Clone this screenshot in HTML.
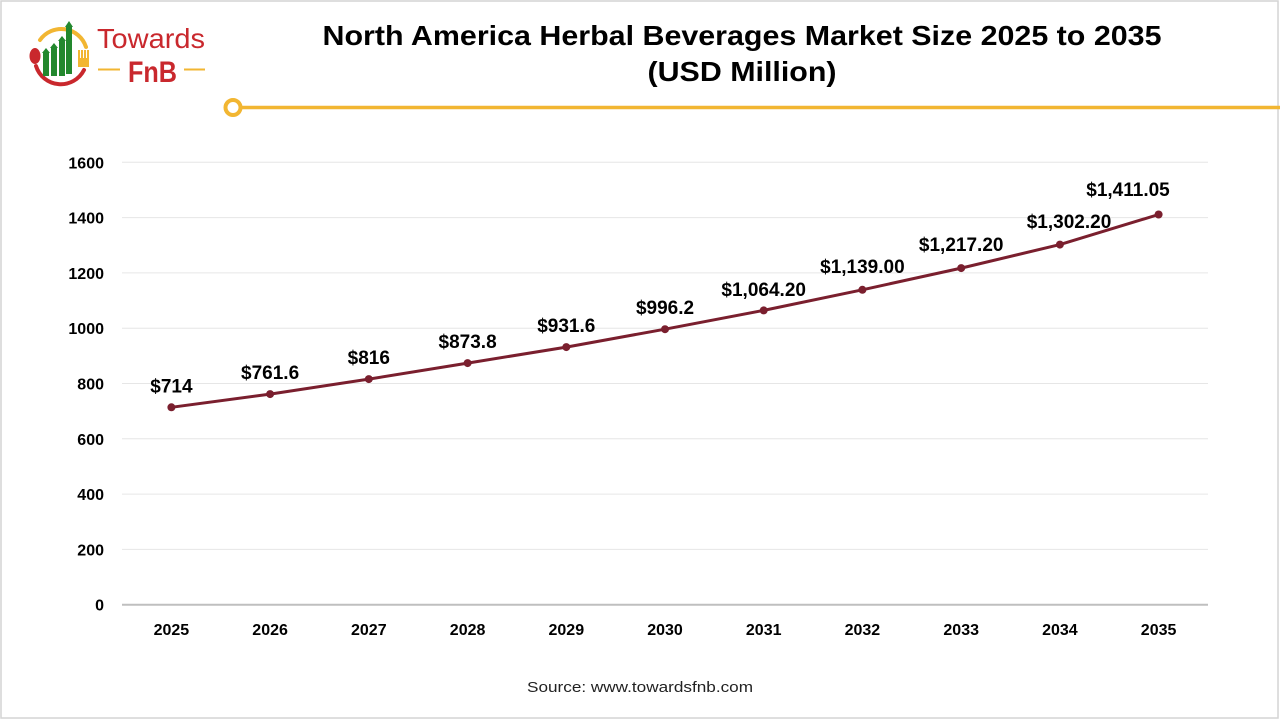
<!DOCTYPE html>
<html>
<head>
<meta charset="utf-8">
<style>
  html,body{margin:0;padding:0;background:#fff;}
  svg{display:block;}
</style>
</head>
<body>
<svg width="1280" height="720" viewBox="0 0 1280 720" xmlns="http://www.w3.org/2000/svg">
  <rect x="0" y="0" width="1280" height="720" fill="#fff"/>
  <rect x="1" y="1" width="1277" height="717" fill="none" stroke="#d4d4d4" stroke-width="1.5"/>

  <!-- Logo -->
  <g>
    <path d="M40,40 A26,26 0 0 1 86,47" fill="none" stroke="#f2b632" stroke-width="4" stroke-linecap="round"/>
    <path d="M36,66 A26,26 0 0 0 84,70" fill="none" stroke="#c9282d" stroke-width="4" stroke-linecap="round"/>
    <ellipse cx="35" cy="56" rx="5.5" ry="8" fill="#c9282d"/>
    <rect x="43" y="52" width="6" height="24" fill="#23882e"/>
    <polygon points="42,53 46,48 50,53" fill="#23882e"/>
    <rect x="51" y="47" width="6" height="29" fill="#23882e"/>
    <polygon points="50,48 54,43 58,48" fill="#23882e"/>
    <rect x="59" y="40" width="6" height="36" fill="#23882e"/>
    <polygon points="58,41 62,36 66,41" fill="#23882e"/>
    <rect x="66" y="26" width="6" height="48" fill="#23882e"/>
    <polygon points="65,27 69,21 73,27" fill="#23882e"/>
    <!-- fork -->
    <rect x="78" y="58" width="11" height="9" fill="#f2b632"/>
    <rect x="78" y="50" width="2" height="9" fill="#f2b632"/>
    <rect x="81" y="50" width="2" height="9" fill="#f2b632"/>
    <rect x="84" y="50" width="2" height="9" fill="#f2b632"/>
    <rect x="87" y="50" width="2" height="9" fill="#f2b632"/>
    <text x="97" y="48" font-family="Liberation Sans, sans-serif" font-size="28" fill="#c9282d" textLength="108" lengthAdjust="spacingAndGlyphs">Towards</text>
    <line x1="98" y1="69.5" x2="120" y2="69.5" stroke="#f2b632" stroke-width="2"/>
    <line x1="184" y1="69.5" x2="205" y2="69.5" stroke="#f2b632" stroke-width="2"/>
    <text x="128" y="82" font-family="Liberation Sans, sans-serif" font-weight="bold" font-size="30" fill="#c9282d" textLength="49" lengthAdjust="spacingAndGlyphs">FnB</text>
  </g>

  <!-- Title -->
  <text x="742" y="45" text-anchor="middle" font-family="Liberation Sans, sans-serif" font-weight="bold" font-size="28" fill="#000" textLength="839" lengthAdjust="spacingAndGlyphs">North America Herbal Beverages Market Size 2025 to 2035</text>
  <text x="742" y="81" text-anchor="middle" font-family="Liberation Sans, sans-serif" font-weight="bold" font-size="28" fill="#000" textLength="189" lengthAdjust="spacingAndGlyphs">(USD Million)</text>

  <!-- Yellow rule -->
  <line x1="241" y1="107.5" x2="1280" y2="107.5" stroke="#f2b632" stroke-width="3.5"/>
  <circle cx="233" cy="107.5" r="7.5" fill="#fff" stroke="#f2b632" stroke-width="4"/>

  <!-- Gridlines -->
  <g stroke="#e6e6e6" stroke-width="1">
    <line x1="122" y1="162.3" x2="1208" y2="162.3"/>
    <line x1="122" y1="217.6" x2="1208" y2="217.6"/>
    <line x1="122" y1="272.9" x2="1208" y2="272.9"/>
    <line x1="122" y1="328.2" x2="1208" y2="328.2"/>
    <line x1="122" y1="383.5" x2="1208" y2="383.5"/>
    <line x1="122" y1="438.8" x2="1208" y2="438.8"/>
    <line x1="122" y1="494.1" x2="1208" y2="494.1"/>
    <line x1="122" y1="549.4" x2="1208" y2="549.4"/>
  </g>
  <line x1="122" y1="604.7" x2="1208" y2="604.7" stroke="#bfbfbf" stroke-width="2"/>

  <!-- Y tick labels -->
  <g font-family="Liberation Sans, sans-serif" font-weight="bold" font-size="16" fill="#000" text-anchor="end">
    <text x="104" y="168.3">1600</text>
    <text x="104" y="223.6">1400</text>
    <text x="104" y="278.9">1200</text>
    <text x="104" y="334.2">1000</text>
    <text x="104" y="389.5">800</text>
    <text x="104" y="444.8">600</text>
    <text x="104" y="500.1">400</text>
    <text x="104" y="555.4">200</text>
    <text x="104" y="610.7">0</text>
  </g>

  <!-- X tick labels -->
  <g font-family="Liberation Sans, sans-serif" font-weight="bold" font-size="16" fill="#000" text-anchor="middle">
    <text x="171.4" y="635">2025</text>
    <text x="270.1" y="635">2026</text>
    <text x="368.8" y="635">2027</text>
    <text x="467.6" y="635">2028</text>
    <text x="566.3" y="635">2029</text>
    <text x="665" y="635">2030</text>
    <text x="763.7" y="635">2031</text>
    <text x="862.4" y="635">2032</text>
    <text x="961.2" y="635">2033</text>
    <text x="1059.9" y="635">2034</text>
    <text x="1158.6" y="635">2035</text>
  </g>

  <!-- Line -->
  <polyline fill="none" stroke="#7a1f2e" stroke-width="3" stroke-linejoin="round"
    points="171.4,407.3 270.1,394.1 368.8,379.1 467.6,363.1 566.3,347.1 665,329.2 763.7,310.4 862.4,289.8 961.2,268.1 1059.9,244.6 1158.6,214.5"/>
  <g fill="#7a1f2e">
    <circle cx="171.4" cy="407.3" r="4"/>
    <circle cx="270.1" cy="394.1" r="4"/>
    <circle cx="368.8" cy="379.1" r="4"/>
    <circle cx="467.6" cy="363.1" r="4"/>
    <circle cx="566.3" cy="347.1" r="4"/>
    <circle cx="665" cy="329.2" r="4"/>
    <circle cx="763.7" cy="310.4" r="4"/>
    <circle cx="862.4" cy="289.8" r="4"/>
    <circle cx="961.2" cy="268.1" r="4"/>
    <circle cx="1059.9" cy="244.6" r="4"/>
    <circle cx="1158.6" cy="214.5" r="4"/>
  </g>

  <!-- Data labels -->
  <g font-family="Liberation Sans, sans-serif" font-weight="bold" font-size="19" fill="#000" text-anchor="middle">
    <text x="171.4" y="392.5">$714</text>
    <text x="270.1" y="379">$761.6</text>
    <text x="368.8" y="364">$816</text>
    <text x="467.6" y="348">$873.8</text>
    <text x="566.3" y="332">$931.6</text>
    <text x="665" y="314">$996.2</text>
    <text x="763.7" y="296">$1,064.20</text>
    <text x="862.4" y="273">$1,139.00</text>
    <text x="961.2" y="251">$1,217.20</text>
    <text x="1069" y="228">$1,302.20</text>
    <text x="1128" y="196">$1,411.05</text>
  </g>

  <!-- Source -->
  <text x="640" y="692" text-anchor="middle" font-family="Liberation Sans, sans-serif" font-size="15" fill="#222" textLength="226" lengthAdjust="spacingAndGlyphs">Source: www.towardsfnb.com</text>
</svg>
</body>
</html>
